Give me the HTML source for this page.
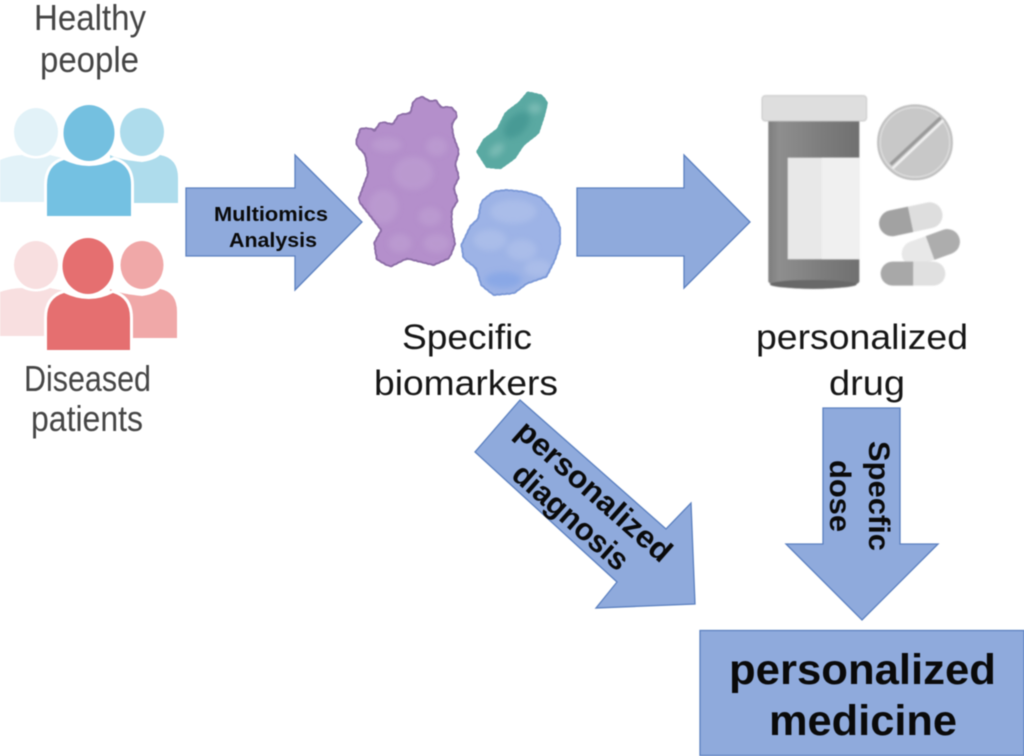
<!DOCTYPE html>
<html><head><meta charset="utf-8"><style>
html,body{margin:0;padding:0;background:#fff;width:1024px;height:756px;overflow:hidden}
svg{display:block}
text{font-family:"Liberation Sans",sans-serif}
.b{font-weight:bold;fill:#0a0a0a}
.l{fill:#454545}
.k{fill:#161616}
</style></head><body>
<svg width="1024" height="756" viewBox="0 0 1024 756" xmlns="http://www.w3.org/2000/svg">
<defs>
<filter id="s" x="-5%" y="-5%" width="110%" height="110%" color-interpolation-filters="sRGB"><feGaussianBlur stdDeviation="0.55"/></filter>
<filter id="m" x="-10%" y="-10%" width="120%" height="120%" color-interpolation-filters="sRGB"><feGaussianBlur stdDeviation="1.500"/></filter>
<filter id="goo" x="-10%" y="-10%" width="120%" height="120%" color-interpolation-filters="sRGB"><feGaussianBlur stdDeviation="4"/><feColorMatrix type="matrix" values="1 0 0 0 0 0 1 0 0 0 0 0 1 0 0 0 0 0 12 -5"/><feGaussianBlur stdDeviation="1"/></filter>
<filter id="h" x="-40%" y="-40%" width="180%" height="180%" color-interpolation-filters="sRGB"><feGaussianBlur stdDeviation="9"/></filter>
<linearGradient id="bt" x1="0" x2="1" y1="0" y2="0">
<stop offset="0" stop-color="#7e7e7e"/><stop offset=".12" stop-color="#8e8e8e"/><stop offset=".35" stop-color="#868686"/><stop offset=".6" stop-color="#7c7c7c"/><stop offset="1" stop-color="#707070"/>
</linearGradient>
<polygon id="pu" points="25,180 35,150 60,150 75,160 95,130 130,140 150,108 185,105 195,65 215,55 240,70 255,65 270,88 300,85 318,105 300,130 305,170 322,215 310,255 322,290 305,325 318,360 300,390 300,440 310,490 295,530 250,550 210,540 170,530 120,555 85,535 78,490 100,450 65,405 30,360 45,320 60,280 50,220 25,195"/>
<polygon id="te" points="385,215 405,180 445,150 470,100 510,70 535,40 575,50 588,70 578,110 562,158 518,192 492,232 450,262 412,258"/>
<polygon id="bl" points="340,495 365,442 390,418 398,368 432,340 470,335 520,340 568,355 598,388 625,440 625,490 610,538 586,586 528,606 490,635 432,640 398,612 383,562 345,532"/>
<clipPath id="cpu"><use href="#pu"/></clipPath>
<clipPath id="cte"><use href="#te"/></clipPath>
<clipPath id="cbl"><use href="#bl"/></clipPath>
</defs>
<g filter="url(#s)">
<!-- arrows -->
<g fill="#8faadc" stroke="#5b80c0" stroke-width="1.3">
<polygon points="186,188 295,188 295,155 362,222 295,290 295,256 186,256"/>
<polygon points="577,188 684,188 684,155 750,222 684,288 684,256 577,256"/>
<polygon points="520,400 666,529 691,503 695,604 596,608 617,582 475,452"/>
<polygon points="823,408 900,408 900,544 938,544 862,620 786,544 823,544"/>
<rect x="700" y="630.5" width="324" height="125"/>
</g>
<!-- healthy people -->
<g>
<ellipse cx="36" cy="132" rx="22" ry="24" fill="#e2f2f8"/>
<path d="M0,202V160Q12,155 22,155Q36,162 50,155L70,160V202Z" fill="#e2f2f8"/>
<ellipse cx="142" cy="132" rx="22" ry="24" fill="#aedcec"/>
<path d="M110,203V155Q120,160 142,162Q155,160 160,155Q178,158 178,178V203Z" fill="#aedcec"/>
<path d="M47,216V185Q47,165 64,160Q89,172 114,160Q131,165 131,185V216Z" fill="#74c1e2" stroke="#fff" stroke-width="6" paint-order="stroke"/>
<ellipse cx="89" cy="133" rx="25.500" ry="28" fill="#74c0e0"/>
</g>
<!-- diseased -->
<g>
<ellipse cx="36" cy="265" rx="22" ry="24" fill="#f8dfe0"/>
<path d="M0,336V292Q12,288 22,288Q36,295 50,288L70,292V336Z" fill="#f8dfe0"/>
<ellipse cx="142" cy="265" rx="21.500" ry="24" fill="#f0a8a8"/>
<path d="M110,338V289Q120,294 142,296Q155,294 160,289Q177,292 177,312V338Z" fill="#f0a8a8"/>
<path d="M47,350V318Q47,298 64,293Q89,305 113,293Q130,298 130,318V350Z" fill="#e56f70" stroke="#fff" stroke-width="6" paint-order="stroke"/>
<ellipse cx="88" cy="266" rx="25.500" ry="28" fill="#e56f70"/>
</g>
<!-- proteins -->
<g transform="translate(350,80) scale(.3333)">
<g filter="url(#goo)">
<use href="#pu" fill="#8e6fa8" stroke="#8e6fa8" stroke-width="18" stroke-linecap="round" stroke-linejoin="round" stroke-dasharray="0 15"/>
<use href="#te" fill="#64aea8" stroke="#64aea8" stroke-width="14" stroke-linecap="round" stroke-dasharray="0 13"/>
<use href="#bl" fill="#7d9ad8" stroke="#7d9ad8" stroke-width="18" stroke-linecap="round" stroke-dasharray="0 15"/>
</g>
<g filter="url(#goo)">
<use href="#pu" fill="#b48fcb" stroke="#b48fcb" stroke-width="8" stroke-linecap="round" stroke-dasharray="0 15"/>
<use href="#te" fill="#5aa9a2" stroke="#5aa9a2" stroke-width="10" stroke-linecap="round" stroke-dasharray="0 13"/>
<use href="#bl" fill="#9db3e6" stroke="#9db3e6" stroke-width="8" stroke-linecap="round" stroke-dasharray="0 15"/>
</g>
<g clip-path="url(#cpu)"><g filter="url(#h)" fill="#c0a2d4" opacity=".55"><ellipse cx="190" cy="280" rx="60" ry="50"/><ellipse cx="100" cy="380" rx="45" ry="50"/><ellipse cx="240" cy="410" rx="35" ry="28"/><ellipse cx="260" cy="490" rx="40" ry="28"/><ellipse cx="150" cy="490" rx="35" ry="28"/><ellipse cx="260" cy="200" rx="32" ry="28"/><ellipse cx="110" cy="195" rx="45" ry="22"/></g></g>
<g clip-path="url(#cte)"><g filter="url(#h)"><ellipse cx="500" cy="135" rx="48" ry="28" transform="rotate(-45 500 135)" fill="#489a95"/><g fill="#78bab3"><ellipse cx="440" cy="210" rx="26" ry="16" transform="rotate(-40 440 210)"/><ellipse cx="555" cy="85" rx="20" ry="16"/></g></g></g>
<g clip-path="url(#cbl)"><g filter="url(#h)"><g fill="#b2c4ec" opacity=".6"><ellipse cx="490" cy="395" rx="70" ry="36"/><ellipse cx="420" cy="480" rx="50" ry="32"/><ellipse cx="515" cy="510" rx="45" ry="32"/><ellipse cx="565" cy="565" rx="42" ry="26"/></g><ellipse cx="460" cy="600" rx="55" ry="24" fill="#8aa8e6"/></g></g>
</g>
<!-- bottle and pills -->
<g transform="translate(750,85) scale(.3333)">
<g filter="url(#m)">
<path d="M55,108H328V590Q320,610 190,612Q65,610 55,590Z" fill="url(#bt)"/>
<ellipse cx="190" cy="598" rx="130" ry="13" fill="#686868"/>
<rect x="113" y="218" width="215" height="305" fill="#e8e8e8"/>
<rect x="215" y="218" width="113" height="305" fill="#f0f0f0"/>
<rect x="36" y="32" width="314" height="76" rx="10" fill="#dedede" stroke="#c8c8c8" stroke-width="3"/>
<circle cx="495" cy="172" r="112" fill="#c8c8c8" stroke="#b4b4b4" stroke-width="3"/>
<circle cx="495" cy="172" r="104" fill="none" stroke="#e4e4e4" stroke-width="3"/>
<line x1="422" y1="238" x2="572" y2="98" stroke="#9a9a9a" stroke-width="10"/>
<line x1="428" y1="250" x2="580" y2="106" stroke="#f0f0f0" stroke-width="8"/>
<g transform="rotate(-20 543 488)">
<path d="M540,450H595a37,37 0 0 1 0,76H540Z" fill="#adadad"/>
<path d="M540,450H490a37,37 0 0 0 0,76H540Z" fill="#e8e8e8"/>
</g>
<g transform="rotate(-12 482 403)">
<path d="M482,364H425a39,39 0 0 0 0,78H482Z" fill="#a2a2a2"/>
<path d="M482,364H540a39,39 0 0 1 0,78H482Z" fill="#dedede"/>
</g>
<path d="M490,530H428a36,36 0 0 0 0,72H490Z" fill="#a8a8a8"/>
<path d="M490,530H550a36,36 0 0 1 0,72H490Z" fill="#e0e0e0"/>
</g>
</g>
<!-- text -->
<g font-size="36">
<text class="l" x="34" y="30" textLength="112" lengthAdjust="spacingAndGlyphs">Healthy</text>
<text class="l" x="40" y="72" textLength="99" lengthAdjust="spacingAndGlyphs">people</text>
<text class="l" x="24" y="391" textLength="127" lengthAdjust="spacingAndGlyphs">Diseased</text>
<text class="l" x="31" y="431" textLength="112" lengthAdjust="spacingAndGlyphs">patients</text>
</g>
<g font-size="35">
<text class="k" x="402" y="349" textLength="130" lengthAdjust="spacingAndGlyphs">Specific</text>
<text class="k" x="374" y="395" textLength="184" lengthAdjust="spacingAndGlyphs">biomarkers</text>
<text class="k" x="756" y="349" textLength="212" lengthAdjust="spacingAndGlyphs">personalized</text>
<text class="k" x="829" y="395" textLength="76" lengthAdjust="spacingAndGlyphs">drug</text>
</g>
<text class="b" x="214" y="221" font-size="20" textLength="114" lengthAdjust="spacingAndGlyphs">Multiomics</text>
<text class="b" x="229" y="247" font-size="20" textLength="88" lengthAdjust="spacingAndGlyphs">Analysis</text>
<text class="b" x="729" y="684" font-size="43" textLength="267" lengthAdjust="spacingAndGlyphs">personalized</text>
<text class="b" x="769" y="735" font-size="43" textLength="188" lengthAdjust="spacingAndGlyphs">medicine</text>
<text class="b" font-size="30" textLength="110" lengthAdjust="spacingAndGlyphs" transform="translate(869,441) rotate(90)">Specfic</text>
<text class="b" font-size="30" textLength="72" lengthAdjust="spacingAndGlyphs" transform="translate(830,460) rotate(90)">dose</text>
<text class="b" font-size="31" textLength="196" lengthAdjust="spacingAndGlyphs" transform="translate(514,434) rotate(41.500)">personalized</text>
<text class="b" font-size="31" textLength="144" lengthAdjust="spacingAndGlyphs" transform="translate(510,477) rotate(41.500)">diagnosis</text>
</g>
</svg>
</body></html>
